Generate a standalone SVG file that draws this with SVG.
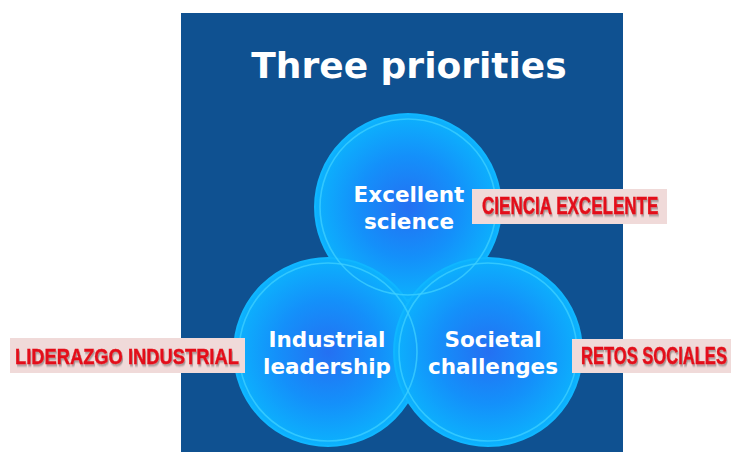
<svg xmlns="http://www.w3.org/2000/svg" width="731" height="452" viewBox="0 0 731 452">
  <defs>
    <radialGradient id="ballFill" cx="50%" cy="50%" r="50%">
      <stop offset="0" stop-color="#2470f2"/>
      <stop offset="0.55" stop-color="#1490fa"/>
      <stop offset="1" stop-color="#0cb2fd"/>
    </radialGradient>
    <filter id="shadow" x="-2%" y="-15%" width="104%" height="130%">
      <feGaussianBlur in="SourceAlpha" stdDeviation="1"/>
      <feOffset dx="1" dy="1.5" result="b"/>
      <feComponentTransfer><feFuncA type="linear" slope="0.35"/></feComponentTransfer>
      <feMerge><feMergeNode/><feMergeNode in="SourceGraphic"/></feMerge>
    </filter>
  </defs>
  <style>
    .ball { fill: url(#ballFill); stroke: #10b6ff; stroke-width: 2; }
    .rim { fill: none; stroke: #3fd0ff; stroke-width: 1.6; opacity: 0.75; }
    .node-text { font-family: "DejaVu Sans", Verdana, sans-serif; font-weight: bold; font-size: 21.5px; fill: #ffffff; text-anchor: middle; }
    .title { font-family: "DejaVu Sans", Verdana, sans-serif; font-weight: bold; font-size: 36px; fill: #ffffff; text-anchor: middle; }
    .tag-box { fill: #f0dad9; }
    .tag-text { font-family: "Liberation Sans", Arial, sans-serif; font-weight: bold; font-size: 23px; fill: #e3101a; stroke: #e3101a; stroke-width: 0.4; filter: url(#shadow); }
  </style>

  <rect x="0" y="0" width="731" height="452" fill="#ffffff"/>
  <rect id="panel" x="181" y="13" width="442" height="439" fill="#0f5191"/>

  <text class="title" x="409" y="78">Three priorities</text>

  <g id="fills">
    <circle class="ball" cx="408" cy="207" r="93"/>
    <circle class="ball" cx="328" cy="352" r="94"/>
    <circle class="ball" cx="488" cy="352" r="94"/>
  </g>

  <g id="connectors"></g>

  <g id="excellent-science">
    <circle class="rim" cx="408" cy="207" r="88"/>
    <text class="node-text" x="409" y="202">Excellent</text>
    <text class="node-text" x="409" y="229">science</text>
  </g>

  <g id="industrial-leadership">
    <circle class="rim" cx="328" cy="352" r="89"/>
    <text class="node-text" x="327" y="347">Industrial</text>
    <text class="node-text" x="327" y="374">leadership</text>
  </g>

  <g id="societal-challenges">
    <circle class="rim" cx="488" cy="352" r="89"/>
    <text class="node-text" x="493" y="347">Societal</text>
    <text class="node-text" x="493" y="374">challenges</text>
  </g>

  <g id="tag-ciencia">
    <rect class="tag-box" x="472" y="189" width="195" height="35"/>
    <text class="tag-text" transform="translate(482,214) scale(0.741,1)" x="0" y="0">CIENCIA EXCELENTE</text>
  </g>

  <g id="tag-liderazgo">
    <rect class="tag-box" x="10" y="338" width="235" height="35"/>
    <text class="tag-text" transform="translate(15,364) scale(0.797,1)" x="0" y="0">LIDERAZGO INDUSTRIAL</text>
  </g>

  <g id="tag-retos">
    <rect class="tag-box" x="572" y="339" width="159" height="34"/>
    <text class="tag-text" transform="translate(581,364) scale(0.72,1)" x="0" y="0">RETOS SOCIALES</text>
  </g>
</svg>
